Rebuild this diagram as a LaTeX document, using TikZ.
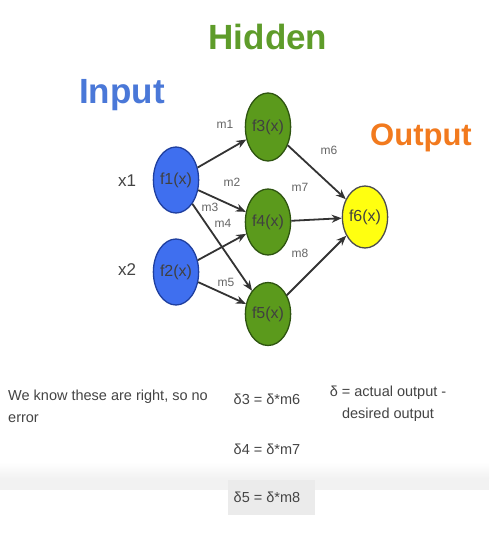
\documentclass[tikz,border=0pt]{standalone}
\usepackage{fontspec}
\setmainfont{Liberation Sans}
\usetikzlibrary{arrows.meta,shapes.geometric}
\definecolor{nblue}{HTML}{3F6FEF}
\definecolor{nbluedk}{HTML}{1F3F9F}
\definecolor{ngreen}{HTML}{5B9A1C}
\definecolor{ngreendk}{HTML}{2E5410}
\definecolor{nyellow}{HTML}{FFFF10}
\definecolor{tgreen}{HTML}{5E9C2A}
\definecolor{tblue}{HTML}{4A78D8}
\definecolor{torange}{HTML}{F27A1E}
\definecolor{txt}{HTML}{444444}
\tikzset{
  neuron/.style={ellipse, draw=#1, line width=1.3pt, minimum width=44pt, minimum height=66pt, inner sep=0pt, font=\fontsize{16}{16}\selectfont, text=black!75},
  bluen/.style={neuron=nbluedk, fill=nblue},
  greenn/.style={neuron=ngreendk, fill=ngreen},
  yellown/.style={neuron=black!70, fill=nyellow},
  conn/.style={-{Stealth[length=10pt,width=8pt]}, line width=1.8pt, draw=black!80},
  wlab/.style={font=\fontsize{12}{12}\selectfont, text=black!60},
  title/.style={font=\fontsize{35}{35}\selectfont\bfseries},
  body/.style={font=\fontsize{14.5}{22}\selectfont, text=txt},
}
\begin{document}
\begin{tikzpicture}[x=1pt,y=-1pt]
\useasboundingbox (0,0) rectangle (489,537);
\fill[white] (0,0) rectangle (489,537);
% faint band
\shade[top color=white, bottom color=black!5] (0,462) rectangle (489,478);
\fill[black!5] (0,478) rectangle (489,490);
\fill[black!8] (228,480) rectangle (315,515);
% titles
\node[title, text=tgreen] (hid) at (268,37) {Hidden};
\node[title, text=tblue] (inp) at (122,95) {Input};
\node[title, text=torange, font=\fontsize{31}{31}\selectfont\bfseries] (out) at (421,138) {Output};
% neurons
\node[bluen] (f1) at (176,180) {f1(x)};
\node[bluen] (f2) at (176,272) {f2(x)};
\node[greenn, minimum height=68pt] (f3) at (268,127) {f3(x)};
\node[greenn] (f4) at (268,222) {f4(x)};
\node[greenn, minimum height=63pt] (f5) at (268,314) {f5(x)};
\node[yellown, minimum width=45pt, minimum height=62pt] (f6) at (365,217) {f6(x)};
% input labels
\node[font=\fontsize{17}{17}\selectfont, text=txt] (x1) at (127,181) {x1};
\node[font=\fontsize{17}{17}\selectfont, text=txt] (x2) at (127,270) {x2};
% connections
\draw[conn] (f1) -- (f3);
\draw[conn] (f1) -- (f4);
\draw[conn] (f1) -- (f5);
\draw[conn] (f2) -- (f4);
\draw[conn] (f2) -- (f5);
\draw[conn] (f3) -- (f6);
\draw[conn] (f4) -- (f6);
\draw[conn] (f5) -- (f6);
% weights
\node[wlab] (m1) at (225,124) {m1};
\node[wlab] (m2) at (232,182) {m2};
\node[wlab] (m3) at (210,207) {m3};
\node[wlab] (m4) at (223,223) {m4};
\node[wlab] (m5) at (226,282) {m5};
\node[wlab] (m6) at (329,150) {m6};
\node[wlab] (m7) at (300,187) {m7};
\node[wlab] (m8) at (300,253) {m8};
% bottom text
\node[body, anchor=north west, align=left, inner sep=0pt] (note) at (8,390) {We know these are right, so no\\error};
\node[body] (d3) at (267,399) {δ3 = δ*m6};
\node[body] (d4) at (267,449) {δ4 = δ*m7};
\node[body] (d5) at (267,497) {δ5 = δ*m8};
\node[body, anchor=north, align=center, inner sep=0pt] (dd) at (388,386) {δ = actual output -\\desired output};
\end{tikzpicture}
\end{document}
